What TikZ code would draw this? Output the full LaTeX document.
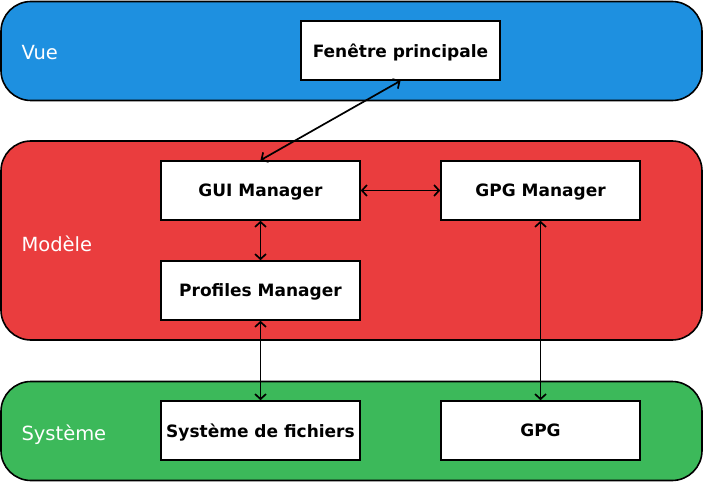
\documentclass[tikz,border=0pt]{standalone}
\usepackage{fontspec}
\setmainfont{DejaVu Sans}
\usepackage{tikz}
\usetikzlibrary{shapes, arrows.meta, positioning}
\definecolor{vueblue}{RGB}{30,144,224}
\definecolor{modred}{RGB}{234,61,62}
\definecolor{sysgreen}{RGB}{60,185,90}

\begin{document}
\begin{tikzpicture}
  [
    x=1pt, y=-1pt,
    Band/.style={rectangle, rounded corners=30pt, draw=black, line width=1.6pt, minimum width=701pt, minimum height=99pt},
    Layer/.style={anchor=west, text=white, font=\fontsize{19.5}{22}\selectfont},
    Box/.style={rectangle, draw=black, fill=white, line width=1.6pt, minimum width=199pt, minimum height=59pt, text depth=0pt, font=\fontsize{17}{20}\selectfont\bfseries},
    Link/.style={{Straight Barb[length=5pt,width=11pt]}-{Straight Barb[length=5pt,width=11pt]}, draw, line width=1.7pt}
  ]
  \useasboundingbox (0,0) rectangle (704,484);
  % Layers
  \node[Band, fill=vueblue] (vue) at (351.5,51) {};
  \node[Band, fill=modred, minimum height=199pt] (modele) at (351.5,240.5) {};
  \node[Band, fill=sysgreen] (systeme) at (351.5,431) {};
  \node[Layer] (lvue) at (18,53) {Vue};
  \node[Layer] (lmodele) at (18,244) {Modèle};
  \node[Layer] (lsysteme) at (18,435) {Système};
  % Nodes
  \node[Box] (fenetre) at (400.5,50.5) {Fenêtre principale};
  \node[Box] (gui) at (260.5,190.5) {GUI Manager};
  \node[Box] (gpgman) at (540.5,190.5) {GPG Manager};
  \node[Box] (profiles) at (260.5,290.5) {Profiles Manager};
  \node[Box] (fichiers) at (260.5,430.5) {Système de fichiers};
  \node[Box] (gpg) at (540.5,430.5) {GPG};
  % Lines
  \path [Link] (gui.north) -- (fenetre.south);
  \path [Link] (gui) -- (gpgman);
  \path [Link] (gui) -- (profiles);
  \path [Link] (profiles) -- (fichiers);
  \path [Link] (gpgman) -- (gpg);
\end{tikzpicture}
\end{document}
